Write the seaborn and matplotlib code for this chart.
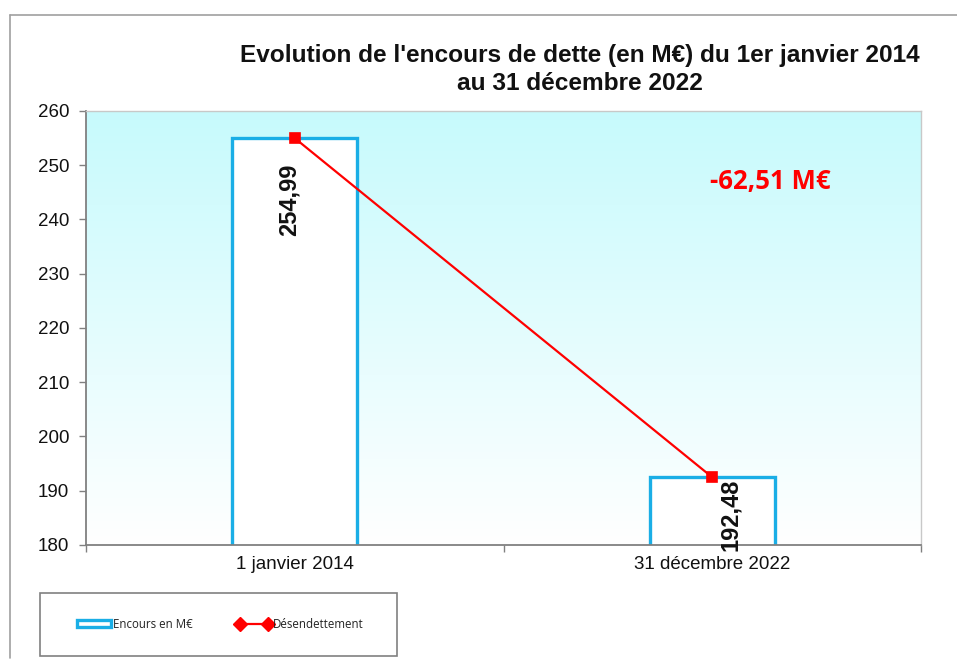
import numpy as np
import matplotlib
matplotlib.use("Agg")
import matplotlib.pyplot as plt
import seaborn as sns
from matplotlib.patches import Patch, Rectangle
from matplotlib.lines import Line2D

categories = ["1 janvier 2014", "31 décembre 2022"]
values = [254.99, 192.48]
yticks = [180, 190, 200, 210, 220, 230, 240, 250, 260]
title_lines = ["Evolution de l'encours de dette (en M€) du 1er janvier 2014",
               "au 31 décembre 2022"]
delta_label = "-62,51 M€"
legend_labels = ["Encours en M€", "Désendettement"]

sns.set_theme(style="white")
plt.rcParams['font.family'] = ['Liberation Sans', 'DejaVu Sans']

fig = plt.figure(figsize=(9.57, 6.61), dpi=100)
ax = fig.add_axes([86/957, 1-545/661, (921-86)/957, (545-111)/661])

bar_color = "#1AAEE6"
sns.barplot(x=categories, y=values, ax=ax, width=0.3, color="white",
            edgecolor=bar_color, linewidth=2.4, zorder=3)
sns.pointplot(x=categories, y=values, ax=ax, color="#FF0000", markers="s",
              linestyles="-", markersize=7, linewidth=1.6, zorder=5)

# gradient background
grad = np.linspace(0, 1, 256).reshape(-1, 1)
top = np.array([0.78, 0.98, 0.99])
bot = np.array([1.0, 1.0, 1.0])
img = top[None, None, :] * (1 - grad[..., None]) + bot[None, None, :] * grad[..., None]
ax.imshow(img, extent=[-0.5, 1.5, 180, 260], aspect='auto', zorder=0, origin='upper')
ax.set_xlim(-0.5, 1.5)
ax.set_ylim(180, 260)

ax.set_yticks(yticks)
ax.set_yticklabels([str(t) for t in yticks], fontsize=13.5, color="#111111")
ax.tick_params(axis='y', which='major', direction='out', length=5, width=1, color="#808080", left=True, pad=7)
ax.set_xticks(range(len(categories)))
ax.set_xticklabels(categories, fontsize=13.5, color="#111111")
ax.tick_params(axis='x', which='major', length=0, pad=8)
ax.set_xticks([-0.5, 0.5, 1.5], minor=True)
ax.tick_params(axis='x', which='minor', direction='out', length=5, width=1, color="#808080", bottom=True)
ax.set_xlabel("")
ax.set_ylabel("")

for s in ['left', 'bottom']:
    ax.spines[s].set_color("#808080")
    ax.spines[s].set_linewidth(1.3)
for s in ['top', 'right']:
    ax.spines[s].set_color("#C8C8C8")
    ax.spines[s].set_linewidth(1.0)
ax.spines['bottom'].set_zorder(6)

offsets = [(-4.3, -18), (13, -1)]
for i, v in enumerate(values):
    ax.annotate(f"{v:.2f}".replace('.', ','), (i, v), xytext=offsets[i],
                textcoords='offset points', rotation=90, ha='center', va='top',
                fontsize=17, fontweight='bold', color='#111111', zorder=7,
                annotation_clip=False)

ax.text(0.82, 0.838, delta_label, transform=ax.transAxes, ha='center', va='center',
        fontsize=18.5, fontweight='bold', color='#FF0000', family=['Open Sans', 'DejaVu Sans'])

for line, yb in zip(title_lines, [62, 90]):
    fig.text(580/957, 1-yb/661, line, ha='center', va='baseline', fontsize=17.6,
             fontweight='bold', color='#111111')

# outer frame lines
fig.add_artist(Line2D([10/957, 1], [1-15/661, 1-15/661], color="#A0A0A0", lw=1.2, transform=fig.transFigure))
fig.add_artist(Line2D([10/957, 10/957], [1-15/661, 1-658/661], color="#A0A0A0", lw=1.2, transform=fig.transFigure))

# legend box
fig.add_artist(Rectangle((40/957, 1-656/661), (397-40)/957, (656-593)/661, transform=fig.transFigure,
                         facecolor='white', edgecolor='#808080', lw=1.2))
handles = [Patch(facecolor='white', edgecolor=bar_color, linewidth=2.4),
           Line2D([0], [0], color='#FF0000', marker='D', markersize=7, lw=1.6)]
leg = fig.legend(handles, legend_labels, loc='center', bbox_to_anchor=(220/957, 1-624/661),
                 ncol=2, frameon=False, fontsize=8.3, handlelength=3.0, handletextpad=0.15,
                 columnspacing=3.8, numpoints=2, handleheight=0.5)
for t in leg.get_texts():
    t.set_family(['Open Sans', 'DejaVu Sans'])
    t.set_color('#222222')

fig.savefig("out.png", dpi=100)
